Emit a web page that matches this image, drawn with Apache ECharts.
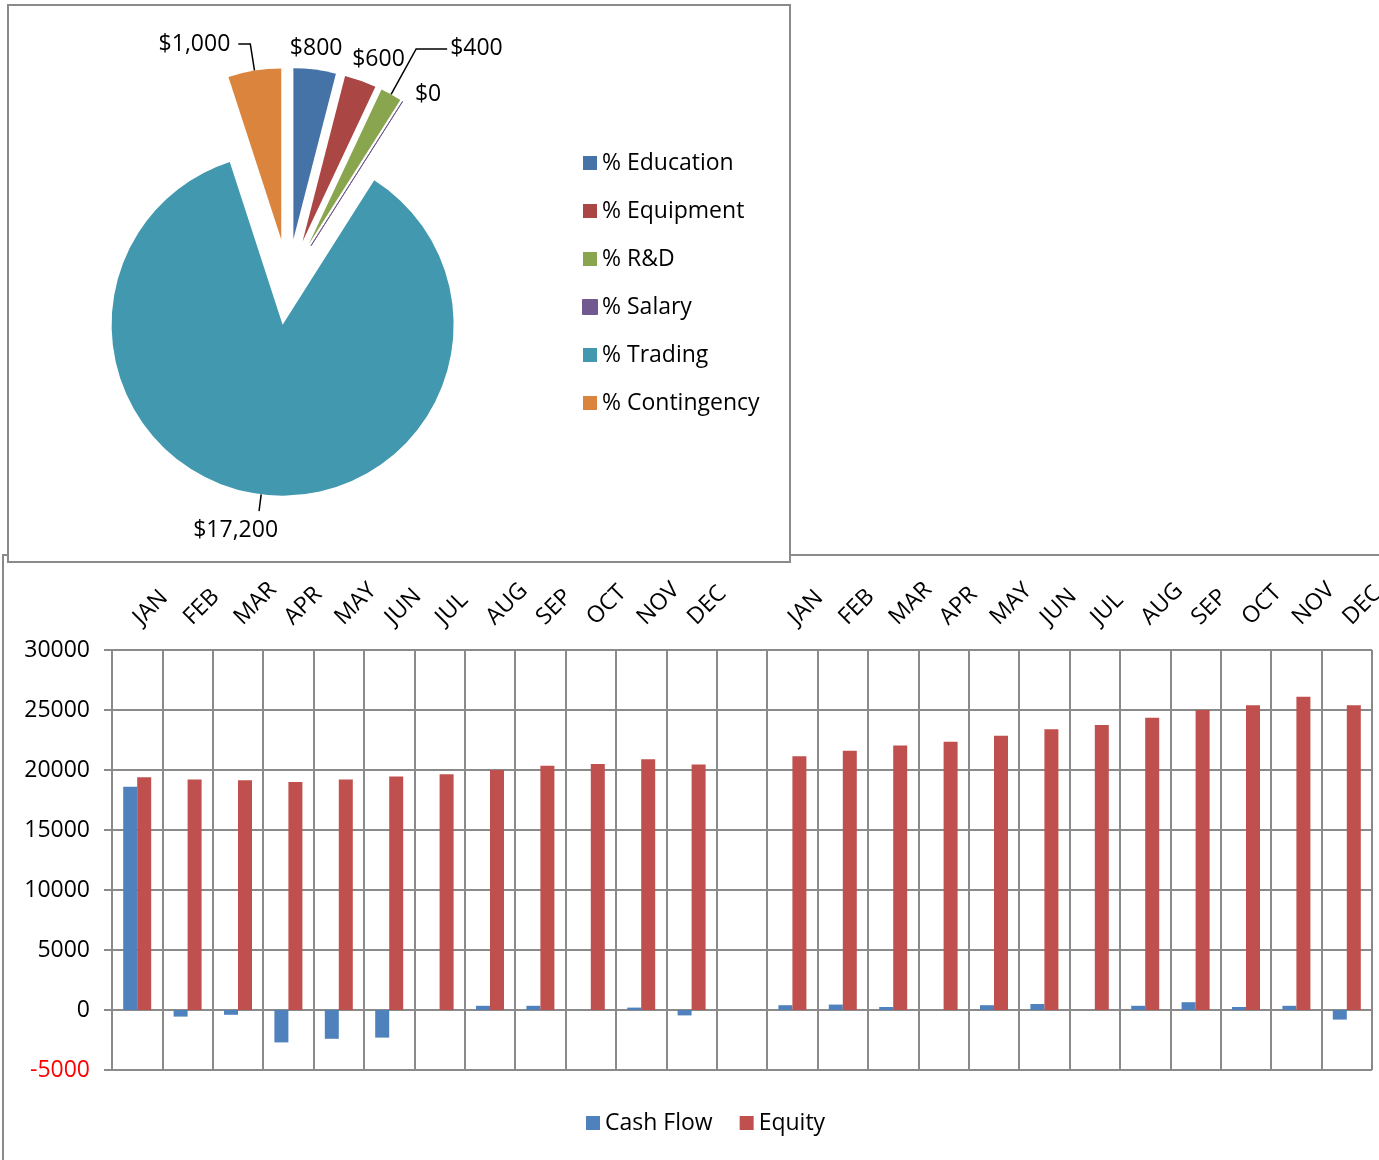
<!DOCTYPE html>
<html>
<head>
<meta charset="utf-8">
<title>Budget and Cash Flow</title>
<script src="https://cdn.jsdelivr.net/npm/echarts@6/dist/echarts.min.js"></script>
<style>
html, body { margin: 0; padding: 0; background: #ffffff; }
#chart { width: 1379px; height: 1160px; }
</style>
</head>
<body>
<div id="chart"></div>
<script>
// budget split (pie)
const budgetNames = ['% Education', '% Equipment', '% R&D', '% Salary', '% Trading', '% Contingency'];
const budgetValues = [800, 600, 400, 0, 17200, 1000];
const budgetColors = ['#4572A7', '#AA4643', '#89A54E', '#71588F', '#4198AF', '#DB843D'];

// two years by month, one empty slot between them
const months = ['JAN', 'FEB', 'MAR', 'APR', 'MAY', 'JUN', 'JUL', 'AUG', 'SEP', 'OCT', 'NOV', 'DEC', '',
    'JAN', 'FEB', 'MAR', 'APR', 'MAY', 'JUN', 'JUL', 'AUG', 'SEP', 'OCT', 'NOV', 'DEC'];
const cashFlow = [18600, -550, -400, -2700, -2400, -2300, 0, 350, 350, 0, 200, -450, null,
    400, 450, 250, 0, 400, 500, 0, 350, 650, 250, 350, -800];
const equity = [19400, 19200, 19150, 19000, 19200, 19450, 19650, 20000, 20350, 20500, 20900, 20450, null,
    21150, 21600, 22050, 22350, 22850, 23400, 23750, 24350, 25000, 25400, 26100, 25400];
const yMin = -5000;
const yMax = 30000;
const yStep = 5000;

const FONT = '"Open Sans", sans-serif';
const GRID_GREY = '#8a8a8a';

const money = v => '$' + String(v).replace(/\B(?=(\d{3})+(?!\d))/g, ',');

// pie label placement, Excel style (leader line only where the label sits away)
// shift: vertical nudge of the text (negative = up), done with an empty extra line
const labelStyle = [
    { line: false, len: 8, len2: 0, dist: -26, shift: -13 },
    { line: false, len: 8, len2: 0, dist: -11, shift: -14 },
    { line: true, len: 52, len2: 31, dist: 3, shift: 0 },
    { line: false, len: 8, len2: 0, dist: 8, shift: 0 },
    { line: true, len: 17, len2: 0, dist: -19, shift: 19 },
    { line: true, len: 27, len2: 12, dist: 8, shift: 0 }
];

const pieData = budgetNames.map((name, i) => {
    const s = labelStyle[i];
    const label = { distanceToLabelLine: s.dist };
    if (s.shift !== 0) label.lineHeight = Math.abs(s.shift) * 2;
    return {
        name: name,
        value: budgetValues[i],
        selected: true,
        itemStyle: {
            color: budgetColors[i],
            borderColor: budgetValues[i] === 0 ? budgetColors[i] : null,
            borderWidth: budgetValues[i] === 0 ? 1 : 0
        },
        label: label,
        labelLine: { show: s.line, length: s.len, length2: s.len2 }
    };
});

const pieLabel = p => {
    const txt = money(p.value);
    const shift = labelStyle[p.dataIndex].shift;
    if (shift < 0) return txt + '\n';
    if (shift > 0) return '\n' + txt;
    return txt;
};

const chart = echarts.init(document.getElementById('chart'));

const option = {
    animation: false,
    textStyle: { fontFamily: FONT },
    graphic: [
        {
            type: 'rect',
            shape: { x: 3, y: 555, width: 1400, height: 620 },
            style: { fill: '#ffffff', stroke: GRID_GREY, lineWidth: 2 }
        },
        {
            type: 'rect',
            shape: { x: 8, y: 5, width: 782, height: 557 },
            style: { fill: '#ffffff', stroke: GRID_GREY, lineWidth: 2 }
        }
    ],
    legend: [
        {
            data: budgetNames,
            orient: 'vertical',
            left: 582,
            top: 150,
            padding: 0,
            itemWidth: 14,
            itemHeight: 14,
            itemGap: 22,
            icon: 'rect',
            selectedMode: false,
            textStyle: { fontSize: 23, color: '#000', fontFamily: FONT, lineHeight: 26 }
        },
        {
            data: ['Cash Flow', 'Equity'],
            orient: 'horizontal',
            left: 586,
            top: 1110,
            padding: 0,
            itemWidth: 14,
            itemHeight: 14,
            itemGap: 27,
            icon: 'rect',
            selectedMode: false,
            textStyle: { fontSize: 23, color: '#000', fontFamily: FONT, lineHeight: 26 }
        }
    ],
    grid: { left: 112, top: 650, width: 1260, height: 420, containLabel: false, outerBoundsMode: 'none' },
    xAxis: {
        type: 'category',
        position: 'top',
        data: months,
        axisLine: { show: false },
        axisTick: { show: false },
        splitLine: { show: true, interval: 0, lineStyle: { color: GRID_GREY, width: 2 } },
        axisLabel: { interval: 0, rotate: 45, margin: 29, fontSize: 23, color: '#000', fontFamily: FONT }
    },
    yAxis: {
        type: 'value',
        min: yMin,
        max: yMax,
        interval: yStep,
        axisLine: { show: true, lineStyle: { color: GRID_GREY, width: 2 } },
        axisTick: { show: true, length: 8, lineStyle: { color: GRID_GREY, width: 2 } },
        splitLine: { show: true, lineStyle: { color: GRID_GREY, width: 2 } },
        axisLabel: {
            margin: 22,
            fontSize: 23,
            fontFamily: FONT,
            formatter: v => String(v),
            color: v => (v < 0 ? '#ff0000' : '#000000')
        }
    },
    series: [
        {
            name: 'Cash Flow',
            type: 'bar',
            data: cashFlow,
            barWidth: 14,
            barGap: '0%',
            itemStyle: { color: '#4F81BD' }
        },
        {
            name: 'Equity',
            type: 'bar',
            data: equity,
            barWidth: 14,
            barGap: '0%',
            itemStyle: { color: '#C0504D' }
        },
        {
            name: 'Budget',
            type: 'pie',
            center: [288, 282],
            radius: 171,
            startAngle: 90,
            clockwise: true,
            selectedMode: 'multiple',
            selectedOffset: 43,
            avoidLabelOverlap: false,
            labelLayout: { hideOverlap: false, moveOverlap: false },
            data: pieData,
            emphasis: { disabled: true },
            label: {
                show: true,
                position: 'outside',
                fontSize: 23,
                color: '#000',
                fontFamily: FONT,
                formatter: pieLabel
            },
            labelLine: { lineStyle: { color: '#000', width: 1.5 } }
        }
    ]
};

chart.setOption(option);
</script>
</body>
</html>
